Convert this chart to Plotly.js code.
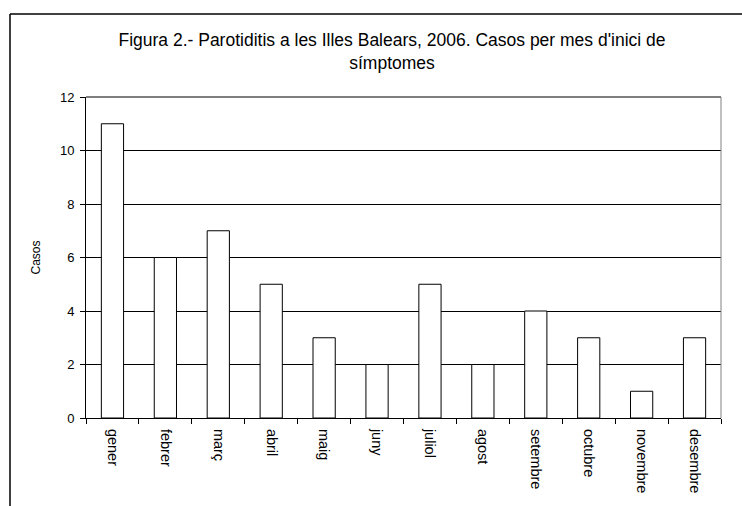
<!DOCTYPE html>
<html>
<head>
<meta charset="utf-8">
<script src="https://cdn.plot.ly/plotly-3.0.1.min.js"></script>
<style>
html,body{margin:0;padding:0;background:#fff;}
#chart{width:742px;height:506px;}
</style>
</head>
<body>
<div id="chart"></div>
<script>
const months = ["gener","febrer","març","abril","maig","juny","juliol","agost","setembre","octubre","novembre","desembre"];
const casos = [11, 6, 7, 5, 3, 2, 5, 2, 4, 3, 1, 3];
const yTicks = [0, 2, 4, 6, 8, 10, 12];
const titleText = "Figura 2.- Parotiditis a les Illes Balears, 2006. Casos per mes d'inici de<br>símptomes";
const yTitle = "Casos";

const font = "Liberation Sans, Arial, sans-serif";

const trace = {
  type: "bar",
  x: months,
  y: casos,
  marker: {color: "#ffffff", line: {color: "#000000", width: 1}},
  hoverinfo: "x+y"
};

const layout = {
  width: 742,
  height: 506,
  margin: {l: 86, r: 21, t: 97, b: 88},
  paper_bgcolor: "#ffffff",
  plot_bgcolor: "#ffffff",
  bargap: 0.58,
  showlegend: false,
  font: {family: font, color: "#000000"},
  title: {
    text: titleText,
    font: {family: font, size: 17.5, color: "#000000"},
    x: 392/742, xref: "container", xanchor: "center",
    y: 1 - 46/506, yref: "container", yanchor: "top"
  },
  xaxis: {
    type: "category",
    tickangle: 90,
    tickson: "boundaries",
    ticks: "outside",
    ticklen: 5,
    tickcolor: "#000000",
    showline: true,
    linecolor: "#000000",
    linewidth: 1,
    showgrid: false,
    zeroline: false,
    ticklabelstandoff: 7,
    tickfont: {family: font, size: 14.5, color: "#000000"}
  },
  yaxis: {
    range: [0, 12],
    tickvals: yTicks,
    ticktext: yTicks.map(String),
    ticks: "outside",
    ticklen: 5,
    tickcolor: "#000000",
    showline: true,
    linecolor: "#000000",
    linewidth: 1,
    showgrid: true,
    gridcolor: "#000000",
    gridwidth: 1,
    zeroline: false,
    ticklabelstandoff: 3,
    tickfont: {family: font, size: 13, color: "#000000"},
    title: {text: yTitle, font: {family: font, size: 12, color: "#000000"}, standoff: 16}
  },
  shapes: [
    {type: "line", xref: "paper", yref: "paper", x0: 0, x1: 1, y0: 1, y1: 1,
     line: {color: "#000000", width: 1}},
    {type: "line", xref: "paper", yref: "paper", x0: 1, x1: 1, y0: 0, y1: 1,
     line: {color: "#808080", width: 1}},
    {type: "line", xref: "paper", yref: "paper", x0: -76/635, x1: -76/635, y0: 1 + 83/321, y1: -0.5,
     line: {color: "#000000", width: 1.5}},
    {type: "line", xref: "paper", yref: "paper", x0: -76/635, x1: 1.2, y0: 1 + 83/321, y1: 1 + 83/321,
     line: {color: "#000000", width: 1.5}}
  ]
};

Plotly.newPlot("chart", [trace], layout, {displayModeBar: false, staticPlot: true});
</script>
</body>
</html>
